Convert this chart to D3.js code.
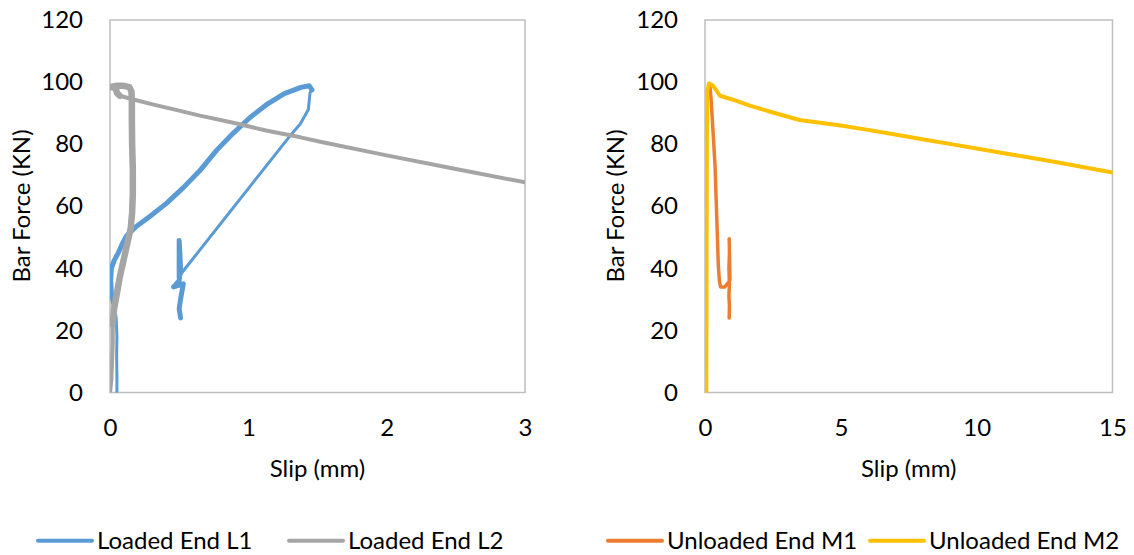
<!DOCTYPE html>
<html lang="en">
<head>
    <meta charset="UTF-8">
    <title>Bar Force vs Slip</title>
    <script src="https://cdnjs.cloudflare.com/ajax/libs/d3/7.8.5/d3.min.js"></script>
    <style>
        body { margin: 0; background: #fff; font-family: Lato, "Open Sans", sans-serif; }
        text { fill: #000; }
        .tick text { font-size: 24px; fill: #000; }
    </style>
</head>
<body>
    <div id="chart"></div>

    <script>
        // Slip (mm), Bar Force (kN) pairs
        const loadedL1 = [
            [0.05, 0], [0.05, 5], [0.048, 12], [0.05, 18], [0.045, 24], [0.03, 28], [0.01, 32],
            [0.005, 36], [0.01, 40], [0.03, 42.5], [0.06, 45], [0.09, 48], [0.12, 50.5],
            [0.19, 53.5], [0.29, 56.8], [0.41, 61], [0.53, 66], [0.65, 71.5], [0.77, 78],
            [0.89, 83.5], [1.01, 88.5], [1.14, 93], [1.26, 96.3], [1.38, 98.3], [1.44, 98.8],
            [1.46, 97.5], [1.446, 96.6], [1.434, 91.2], [1.374, 86.4], [1.30, 82.6],
            [0.518, 38.5], [0.50, 37], [0.50, 49], [0.505, 45], [0.51, 40], [0.50, 36],
            [0.46, 34], [0.53, 35], [0.51, 30], [0.50, 27], [0.51, 24]
        ];
        const loadedL2 = [
            [0.0, 0], [0.01, 4], [0.015, 10], [0.02, 16], [0.02, 22], [0.03, 27], [0.05, 32],
            [0.07, 37], [0.09, 41], [0.11, 45], [0.13, 49], [0.15, 53], [0.16, 58], [0.165, 64],
            [0.165, 72], [0.16, 80], [0.158, 88], [0.158, 94], [0.155, 97], [0.14, 98.4],
            [0.1, 98.8], [0.05, 98.8], [0.0, 98.4], [0.04, 98.2], [0.05, 96.5], [0.07, 95.6],
            [0.17, 94.4], [0.3, 92.9], [0.5, 90.8], [0.65, 89.2], [0.9, 86.8], [1.136, 84.3],
            [1.377, 82.2], [1.52, 80.8], [2.0, 76.4], [2.5, 72], [3.0, 67.7]
        ];
        const unloadedM1 = [
            [0.15, 96], [0.18, 99], [0.22, 95], [0.3, 83.5], [0.37, 73], [0.43, 57], [0.49, 41],
            [0.53, 36], [0.57, 34], [0.73, 34], [0.85, 35.3], [0.92, 36.3], [0.89, 49.5],
            [0.9, 45], [0.88, 40], [0.9, 35], [0.88, 31], [0.9, 28], [0.89, 24]
        ];
        const unloadedM2 = [
            [0.05, 0], [0.06, 50], [0.07, 80], [0.08, 97], [0.15, 99.6], [0.3, 98.8],
            [0.55, 95.6], [1.0, 94.4], [1.65, 92.4], [2.5, 90.2], [3.48, 87.8], [5, 86],
            [6, 84.6], [7, 83.1], [8, 81.6], [9, 80.1], [10, 78.6], [11, 77.1], [12, 75.6],
            [13, 74.1], [14, 72.5], [15, 70.9]
        ];

        const yTicks = [0, 20, 40, 60, 80, 100, 120];
        const leftXTicks = [0, 1, 2, 3];
        const rightXTicks = [0, 5, 10, 15];
        const leftNames = ["Loaded End L1", "Loaded End L2"];
        const rightNames = ["Unloaded End M1", "Unloaded End M2"];

        const width = 1134;
        const height = 555;
        const plotTop = 20, plotBottom = 392.5;

        const svg = d3.select("#chart")
            .append("svg")
            .attr("width", width)
            .attr("height", height);

        function drawPanel(opts) {
            const x = d3.scaleLinear().domain(opts.xDomain).range([opts.left, opts.right]);
            const y = d3.scaleLinear().domain([0, 120]).range([plotBottom, plotTop]);

            const g = svg.append("g");

            g.append("clipPath").attr("id", opts.id)
                .append("rect")
                .attr("x", opts.left).attr("y", plotTop)
                .attr("width", opts.right - opts.left).attr("height", plotBottom - plotTop);

            // plot frame
            g.append("rect")
                .attr("x", opts.left).attr("y", plotTop)
                .attr("width", opts.right - opts.left).attr("height", plotBottom - plotTop)
                .attr("fill", "none")
                .attr("stroke", "#bfbfbf")
                .attr("stroke-width", 1.5);

            g.append("g")
                .attr("transform", `translate(${opts.left},0)`)
                .call(d3.axisLeft(y).tickValues(yTicks).tickSize(0).tickPadding(27))
                .call(a => a.select(".domain").remove())
                .selectAll("text").attr("font-family", "Lato");

            g.append("g")
                .attr("transform", `translate(0,${plotBottom})`)
                .call(d3.axisBottom(x).tickValues(opts.xTicks).tickFormat(d3.format("d"))
                    .tickSize(0).tickPadding(26.5))
                .call(a => a.select(".domain").remove())
                .selectAll("text").attr("font-family", "Lato");

            const line = d3.line().x(d => x(d[0])).y(d => y(d[1]));

            function addPath(data, color, w) {
                g.append("path")
                    .datum(data)
                    .attr("clip-path", `url(#${opts.id})`)
                    .attr("fill", "none")
                    .attr("stroke", color)
                    .attr("stroke-width", w)
                    .attr("stroke-linejoin", "round")
                    .attr("stroke-linecap", "round")
                    .attr("d", line);
            }

            opts.series.forEach(s => {
                addPath(s.data, s.color, s.width);
                // noisy stretches of the test record look heavier
                (s.thick || []).forEach(([a, b]) => addPath(s.data.slice(a, b), s.color, s.thickWidth));
            });

            g.append("text")
                .attr("x", (opts.left + opts.right) / 2)
                .attr("y", 476.5)
                .attr("text-anchor", "middle")
                .attr("font-size", 24)
                .text("Slip (mm)");

            g.append("text")
                .attr("transform", `translate(${opts.titleX},206) rotate(-90)`)
                .attr("text-anchor", "middle")
                .attr("font-size", 24)
                .text("Bar Force (KN)");

            // legend
            opts.series.forEach((s, i) => {
                const lx = opts.legendX[i];
                g.append("line")
                    .attr("x1", lx).attr("x2", lx + 54)
                    .attr("y1", 540.7).attr("y2", 540.7)
                    .attr("stroke", s.color)
                    .attr("stroke-width", 4)
                    .attr("stroke-linecap", "round");
                g.append("text")
                    .attr("x", lx + 59)
                    .attr("y", 548.5)
                    .attr("font-size", 24)
                    .text(s.name);
            });
        }

        drawPanel({
            id: "clipLeft",
            left: 110, right: 525,
            xDomain: [0, 3], xTicks: leftXTicks,
            titleX: 30,
            legendX: [38, 289],
            series: [
                { name: leftNames[0], data: loadedL1, color: "#5b9bd5", width: 3,
                  thick: [[5, 26], [31, 41]], thickWidth: 5 },
                { name: leftNames[1], data: loadedL2, color: "#a5a5a5", width: 4,
                  thick: [[4, 26]], thickWidth: 6.5 }
            ]
        });

        drawPanel({
            id: "clipRight",
            left: 705, right: 1112.5,
            xDomain: [0, 15], xTicks: rightXTicks,
            titleX: 624,
            legendX: [608, 870],
            series: [
                { name: rightNames[0], data: unloadedM1, color: "#ed7d31", width: 3.5 },
                { name: rightNames[1], data: unloadedM2, color: "#ffc000", width: 4 }
            ]
        });
    </script>
</body>
</html>
